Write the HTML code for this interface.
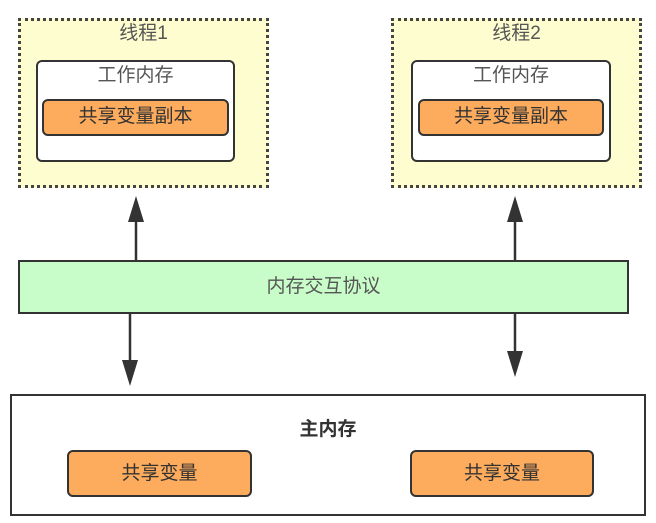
<!DOCTYPE html>
<html><head><meta charset="utf-8"><style>
body{margin:0;width:656px;height:523px;background:#fff;position:relative;overflow:hidden;font-family:"Liberation Sans","Noto Sans CJK SC",sans-serif;color:#333}
div{position:absolute;box-sizing:border-box}
.th{background:#fdfdd0;border:3px dotted #444}
.wm{background:#fff;border:2.5px solid #333;border-radius:6px}
.or{background:#fdab5c;border:2.5px solid #333;border-radius:6px;text-align:center;font-size:19px;color:#333}
.t{text-align:center;font-size:19px;color:#555}
</style></head><body>
<div class="th" style="left:18px;top:18px;width:251px;height:170px"></div>
<div class="t" style="left:18px;top:20px;width:251px;line-height:28px">线程1</div>
<div class="wm" style="left:36px;top:60px;width:199px;height:102px"></div>
<div class="t" style="left:36px;top:62px;width:199px;line-height:28px">工作内存</div>
<div class="or" style="left:42px;top:99px;width:187px;height:37px;line-height:32px">共享变量副本</div>

<div class="th" style="left:391px;top:18px;width:251px;height:170px"></div>
<div class="t" style="left:391px;top:20px;width:251px;line-height:28px">线程2</div>
<div class="wm" style="left:411px;top:60px;width:200px;height:102px"></div>
<div class="t" style="left:411px;top:62px;width:200px;line-height:28px">工作内存</div>
<div class="or" style="left:418px;top:99px;width:186px;height:37px;line-height:32px">共享变量副本</div>

<div style="left:18px;top:260px;width:611px;height:54px;background:#c8fcc8;border:2.5px solid #333;text-align:center;line-height:50px;font-size:19px;color:#555">内存交互协议</div>

<div style="left:10px;top:394px;width:636px;height:122px;border:2.5px solid #333;background:#fff"></div>
<div style="left:10px;top:416px;width:636px;text-align:center;font-size:19px;font-weight:bold;color:#333;line-height:28px">主内存</div>
<div class="or" style="left:67px;top:450px;width:185px;height:47px;line-height:43px">共享变量</div>
<div class="or" style="left:410px;top:450px;width:184px;height:47px;line-height:43px">共享变量</div>

<svg width="656" height="523" style="position:absolute;left:0;top:0">
<g stroke="#333" stroke-width="2.5" fill="#333">
<line x1="136" y1="218" x2="136" y2="260"/>
<polygon points="136,196 128,222 144,222" stroke="none"/>
<line x1="515" y1="218" x2="515" y2="260"/>
<polygon points="515,196 507,222 523,222" stroke="none"/>
<line x1="130" y1="314" x2="130" y2="362"/>
<polygon points="130,386 122,360 138,360" stroke="none"/>
<line x1="515" y1="314" x2="515" y2="352"/>
<polygon points="515,377 507,351 523,351" stroke="none"/>
</g>
</svg>
</body></html>
